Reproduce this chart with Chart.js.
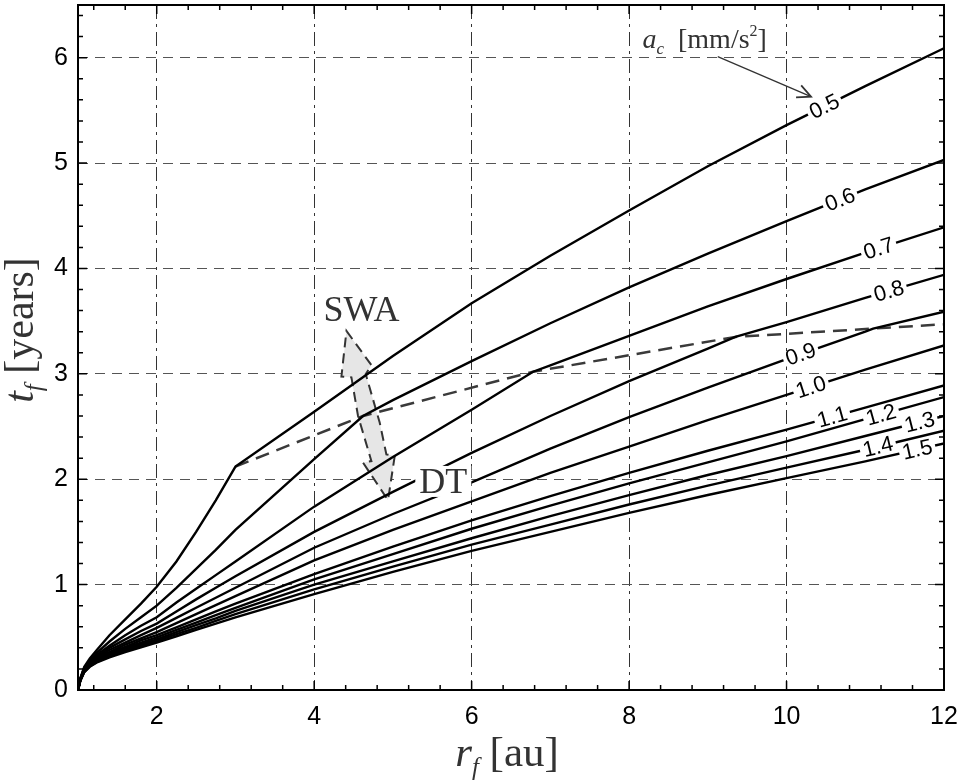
<!DOCTYPE html>
<html>
<head>
<meta charset="utf-8">
<script src="https://cdn.jsdelivr.net/npm/chart.js@4.4.0/dist/chart.umd.min.js"></script>
<style>
  html, body { margin: 0; padding: 0; background: #fff; }
</style>
</head>
<body>
<canvas id="chart" width="967" height="780"></canvas>
<script>
// r_f grid [au] shared by every curve
const rGrid = [1, 1.03, 1.08, 1.15, 1.25, 1.4, 1.6, 1.8, 2, 2.25, 2.5, 2.75, 3, 4, 5, 6, 7, 8, 9, 10, 11, 12];

// a_c values [mm/s^2]
const accel = ['0.5', '0.6', '0.7', '0.8', '0.9', '1.0', '1.1', '1.2', '1.3', '1.4', '1.5'];

// t_f [years] for each a_c, read at rGrid
const t05 = [0, 0.11, 0.22, 0.30, 0.39, 0.52, 0.67, 0.82, 0.98, 1.22, 1.50, 1.80, 2.12, 2.64, 3.17, 3.67, 4.12, 4.55, 4.97, 5.36, 5.73, 6.09];
const t06 = [0, 0.11, 0.21, 0.28, 0.36, 0.46, 0.58, 0.69, 0.80, 0.97, 1.15, 1.33, 1.52, 2.19, 2.75, 3.12, 3.48, 3.82, 4.14, 4.45, 4.75, 5.03];
const t07 = [0, 0.10, 0.21, 0.27, 0.34, 0.42, 0.52, 0.61, 0.69, 0.83, 0.96, 1.09, 1.22, 1.74, 2.21, 2.66, 3.08, 3.36, 3.64, 3.90, 4.15, 4.39];
const t08 = [0, 0.10, 0.20, 0.26, 0.32, 0.40, 0.48, 0.56, 0.63, 0.745, 0.86, 0.97, 1.08, 1.50, 1.88, 2.25, 2.60, 2.93, 3.24, 3.49, 3.72, 3.94];
const t09 = [0, 0.10, 0.20, 0.25, 0.31, 0.38, 0.45, 0.52, 0.59, 0.685, 0.78, 0.875, 0.97, 1.35, 1.67, 1.97, 2.29, 2.59, 2.87, 3.14, 3.40, 3.59];
const t10 = [0, 0.10, 0.19, 0.245, 0.30, 0.36, 0.43, 0.49, 0.55, 0.635, 0.72, 0.805, 0.89, 1.23, 1.52, 1.79, 2.06, 2.31, 2.56, 2.80, 3.04, 3.27];
const t11 = [0, 0.10, 0.19, 0.24, 0.29, 0.35, 0.41, 0.47, 0.52, 0.595, 0.67, 0.745, 0.82, 1.10, 1.36, 1.61, 1.84, 2.06, 2.27, 2.47, 2.68, 2.89];
const t12 = [0, 0.09, 0.18, 0.235, 0.285, 0.34, 0.40, 0.45, 0.50, 0.57, 0.64, 0.71, 0.78, 1.05, 1.29, 1.53, 1.75, 1.96, 2.16, 2.36, 2.57, 2.78];
const t13 = [0, 0.09, 0.18, 0.23, 0.28, 0.33, 0.385, 0.435, 0.48, 0.55, 0.615, 0.68, 0.75, 1.00, 1.22, 1.44, 1.65, 1.85, 2.04, 2.22, 2.41, 2.60];
const t14 = [0, 0.09, 0.17, 0.225, 0.27, 0.32, 0.37, 0.42, 0.465, 0.53, 0.59, 0.655, 0.72, 0.955, 1.17, 1.38, 1.57, 1.76, 1.94, 2.11, 2.28, 2.46];
const t15 = [0, 0.09, 0.17, 0.22, 0.265, 0.31, 0.36, 0.405, 0.45, 0.51, 0.57, 0.63, 0.69, 0.91, 1.12, 1.32, 1.50, 1.68, 1.85, 2.01, 2.17, 2.34];
const tCurves = [t05, t06, t07, t08, t09, t10, t11, t12, t13, t14, t15];

// dashed boundary (SWA / DT switch), kink points of the curves
const boundR = [3, 4.62, 6.78, 9.35, 11.1, 12];
const boundT = [2.12, 2.60, 3.02, 3.35, 3.43, 3.47];
const kinkOf = [0, 1, 2, 3, 4, -1, -1, -1, -1, -1, -1];

// ticks
const xTicks = [2, 4, 6, 8, 10, 12];
const yTicks = [0, 1, 2, 3, 4, 5, 6];

// where the contour labels sit (r_f)
const labelR = [10.48, 10.68, 11.17, 11.3, 10.18, 10.31, 10.58, 11.2, 11.69, 11.16, 11.66];

function curvePoints(i) {
  const pts = rGrid.map((r, j) => ({ x: r, y: tCurves[i][j] }));
  const k = kinkOf[i];
  if (k >= 0) {
    const p = { x: boundR[k], y: boundT[k] };
    const same = pts.findIndex(q => q.x === p.x);
    if (same >= 0) pts[same] = p;
    else {
      pts.push(p);
      pts.sort((a, b) => a.x - b.x);
    }
  }
  return pts;
}

function interp(pts, r) {
  for (let j = 1; j < pts.length; j++) {
    if (r <= pts[j].x) {
      const a = pts[j - 1], b = pts[j];
      return a.y + (b.y - a.y) * (r - a.x) / (b.x - a.x);
    }
  }
  return pts[pts.length - 1].y;
}

const curves = accel.map((a, i) => curvePoints(i));

const datasets = curves.map((pts, i) => ({
  label: accel[i],
  data: pts,
  borderColor: '#000',
  borderWidth: 2.4,
  pointRadius: 0,
  tension: 0,
  fill: false
}));
datasets.push({
  label: 'boundary',
  data: boundR.map((r, j) => ({ x: r, y: boundT[j] })),
  borderColor: '#3a3a3a',
  borderWidth: 2.5,
  borderDash: [14, 8],
  pointRadius: 0,
  tension: 0,
  fill: false
});

const SERIF = '"Liberation Serif", "Times New Roman", serif';
const SANS = '"Liberation Sans", Arial, sans-serif';

// draw a run of text pieces (italic / sub / superscript)
function richText(ctx, parts, x, y, align) {
  let w = 0;
  parts.forEach(p => {
    ctx.font = (p.it ? 'italic ' : '') + p.size + 'px ' + SERIF;
    p.w = ctx.measureText(p.t).width;
    w += p.w;
  });
  let cx = align === 'center' ? x - w / 2 : x;
  parts.forEach(p => {
    ctx.font = (p.it ? 'italic ' : '') + p.size + 'px ' + SERIF;
    ctx.fillText(p.t, cx, y + (p.dy || 0));
    cx += p.w;
  });
  return w;
}

const decor = {
  id: 'decor',
  beforeDatasetsDraw(chart) {
    const { ctx, scales: { x, y } } = chart;
    // SWA <-> DT double arrow
    const arrow = [
      [4.410, 3.407], [4.727, 3.083], [4.655, 2.997], [4.832, 2.538], [4.917, 2.236],
      [5.023, 2.220], [4.938, 1.801], [4.621, 2.157], [4.727, 2.172], [4.557, 2.600],
      [4.473, 2.966], [4.346, 2.975]
    ];
    ctx.save();
    ctx.beginPath();
    arrow.forEach((p, j) => {
      const px = x.getPixelForValue(p[0]), py = y.getPixelForValue(p[1]);
      if (j === 0) ctx.moveTo(px, py); else ctx.lineTo(px, py);
    });
    ctx.closePath();
    ctx.fillStyle = '#e6e6e6';
    ctx.fill();
    ctx.setLineDash([10, 6]);
    ctx.strokeStyle = '#333';
    ctx.lineWidth = 2;
    ctx.stroke();
    ctx.restore();
  },
  afterDatasetsDraw(chart) {
    const { ctx, chartArea: ca, scales: { x, y } } = chart;
    ctx.save();

    // contour labels
    ctx.font = '22px ' + SANS;
    ctx.textAlign = 'center';
    ctx.textBaseline = 'middle';
    curves.forEach((pts, i) => {
      const r = labelR[i];
      const px = x.getPixelForValue(r), py = y.getPixelForValue(interp(pts, r));
      const dx = x.getPixelForValue(r + 0.15) - x.getPixelForValue(r - 0.15);
      const dy = y.getPixelForValue(interp(pts, r + 0.15)) - y.getPixelForValue(interp(pts, r - 0.15));
      const ang = Math.atan2(dy, dx);
      const w = ctx.measureText(accel[i]).width;
      ctx.save();
      ctx.translate(px, py);
      ctx.rotate(ang);
      ctx.fillStyle = '#fff';
      ctx.fillRect(-w / 2 - 3, -7, w + 6, 14);
      ctx.fillStyle = '#000';
      ctx.fillText(accel[i], 0, 1);
      ctx.restore();
    });

    // SWA / DT
    ctx.fillStyle = '#333';
    ctx.textBaseline = 'alphabetic';
    ctx.textAlign = 'center';
    ctx.font = '36px ' + SERIF;
    ctx.fillText('SWA', x.getPixelForValue(4.60), y.getPixelForValue(3.50));
    const dtx = x.getPixelForValue(5.64), dty = y.getPixelForValue(1.87);
    const dtw = ctx.measureText('DT').width;
    ctx.fillStyle = '#fff';
    ctx.fillRect(dtx - dtw / 2 - 4, dty - 27, dtw + 8, 31);
    ctx.fillStyle = '#333';
    ctx.fillText('DT', dtx, dty);

    // a_c annotation and pointer
    ctx.textAlign = 'left';
    richText(ctx, [
      { t: 'a', it: true, size: 28 },
      { t: 'c', it: true, size: 17, dy: 6 },
      { t: '  [mm/s', size: 28 },
      { t: '2', size: 16, dy: -12 },
      { t: ']', size: 28 }
    ], x.getPixelForValue(8.17), y.getPixelForValue(6.095), 'left');
    const ax0 = x.getPixelForValue(9.126), ay0 = y.getPixelForValue(6.010);
    const ax1 = x.getPixelForValue(10.311), ay1 = y.getPixelForValue(5.630);
    const a = Math.atan2(ay1 - ay0, ax1 - ax0);
    ctx.strokeStyle = '#333';
    ctx.lineWidth = 1.3;
    ctx.beginPath();
    ctx.moveTo(ax0, ay0);
    ctx.lineTo(ax1, ay1);
    ctx.stroke();
    ctx.lineWidth = 1.8;
    ctx.beginPath();
    ctx.moveTo(ax1 - 15 * Math.cos(a - 0.45), ay1 - 15 * Math.sin(a - 0.45));
    ctx.lineTo(ax1, ay1);
    ctx.lineTo(ax1 - 15 * Math.cos(a + 0.45), ay1 - 15 * Math.sin(a + 0.45));
    ctx.stroke();

    // inward ticks on all four sides
    ctx.strokeStyle = '#000';
    ctx.lineWidth = 1.5;
    ctx.beginPath();
    for (let k = 3; k < 30; k++) {
      const v = k * 0.4;
      const len = k % 5 === 0 ? 9 : 5;
      const px = x.getPixelForValue(v);
      ctx.moveTo(px, ca.bottom); ctx.lineTo(px, ca.bottom - len);
      ctx.moveTo(px, ca.top); ctx.lineTo(px, ca.top + len);
    }
    for (let k = 1; k < 33; k++) {
      const v = k * 0.2;
      const len = k % 5 === 0 ? 9 : 5;
      const py = y.getPixelForValue(v);
      ctx.moveTo(ca.left, py); ctx.lineTo(ca.left + len, py);
      ctx.moveTo(ca.right, py); ctx.lineTo(ca.right - len, py);
    }
    ctx.stroke();

    // frame
    ctx.lineWidth = 2;
    ctx.strokeRect(ca.left, ca.top, ca.right - ca.left, ca.bottom - ca.top);
    ctx.restore();
  },
  afterDraw(chart) {
    const { ctx, chartArea: ca } = chart;
    ctx.save();
    ctx.fillStyle = '#333';
    ctx.textBaseline = 'alphabetic';
    ctx.textAlign = 'left';
    richText(ctx, [
      { t: 'r', it: true, size: 43 },
      { t: 'f', it: true, size: 25, dy: 9 },
      { t: ' [au]', size: 43 }
    ], (ca.left + ca.right) / 2 - 4, 766, 'center');
    ctx.translate(33, 330);
    ctx.rotate(-Math.PI / 2);
    richText(ctx, [
      { t: 't', it: true, size: 42 },
      { t: 'f', it: true, size: 25, dy: 9 },
      { t: ' [years]', size: 42 }
    ], 0, 0, 'center');
    ctx.restore();
  }
};

new Chart(document.getElementById('chart').getContext('2d'), {
  type: 'line',
  data: { datasets },
  options: {
    responsive: false,
    animation: false,
    layout: { padding: { left: 0, right: 23, top: 5, bottom: 0 } },
    plugins: { legend: { display: false }, tooltip: { enabled: false } },
    scales: {
      x: {
        type: 'linear',
        min: 1,
        max: 12,
        afterFit: s => { s.height = 90; s.paddingLeft = 0; s.paddingRight = 0; },
        afterBuildTicks: s => { s.ticks = xTicks.map(v => ({ value: v })); },
        grid: { color: '#333', lineWidth: 1, drawTicks: false },
        border: { display: false, dash: [14, 5, 3, 5] },
        ticks: { font: { family: SANS, size: 25 }, color: '#000', padding: 12, maxRotation: 0 }
      },
      y: {
        type: 'linear',
        min: 0,
        max: 6.5,
        afterFit: s => { s.width = 78; s.paddingTop = 0; s.paddingBottom = 0; },
        afterBuildTicks: s => { s.ticks = yTicks.map(v => ({ value: v })); },
        grid: { color: '#555', lineWidth: 1, drawTicks: false },
        border: { display: false, dash: [10, 7] },
        ticks: { font: { family: SANS, size: 25 }, color: '#000', padding: 10 }
      }
    }
  },
  plugins: [decor]
});
</script>
</body>
</html>
